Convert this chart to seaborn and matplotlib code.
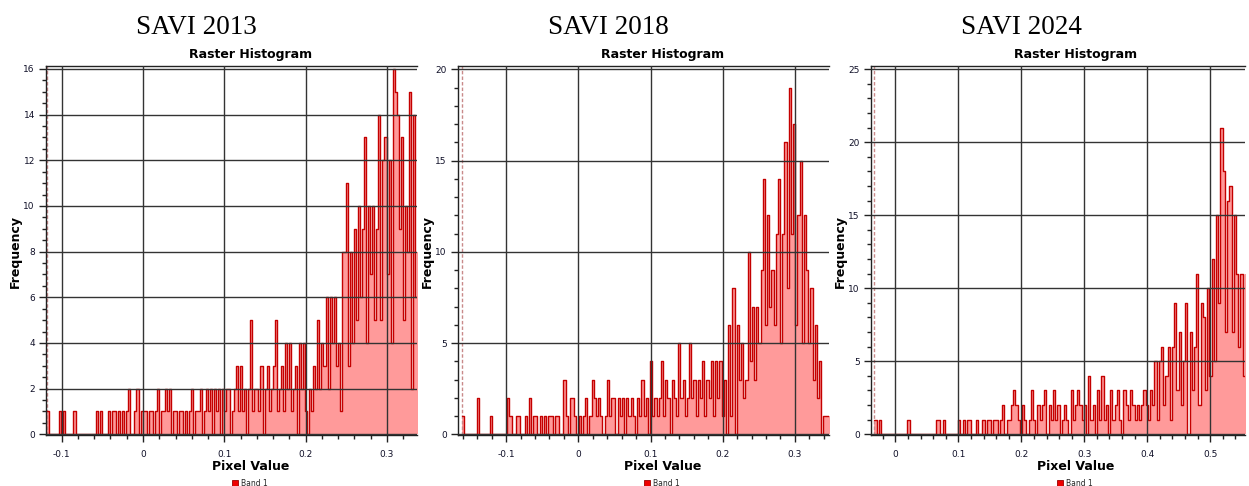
import numpy as np
import pandas as pd
import seaborn as sns
import matplotlib.pyplot as plt
from matplotlib.ticker import MultipleLocator
from matplotlib.patches import Patch

# histogram counts per bin
years = ["2013", "2018", "2024"]

start_2013 = -0.118
width_2013 = 0.0025
freq_2013 = [
    1, 0, 0, 0, 0, 0, 1, 0, 1, 0,
    0, 0, 0, 1, 0, 0, 0, 0, 0, 0,
    0, 0, 0, 0, 1, 0, 1, 0, 0, 0,
    1, 0, 1, 1, 0, 1, 0, 1, 0, 1,
    2, 0, 0, 1, 2, 0, 1, 1, 1, 0,
    1, 1, 0, 1, 2, 0, 1, 1, 2, 1,
    2, 0, 1, 1, 0, 1, 1, 0, 1, 0,
    1, 2, 0, 1, 1, 2, 0, 1, 2, 1,
    2, 0, 2, 1, 2, 0, 2, 1, 2, 2,
    0, 1, 2, 3, 1, 3, 1, 2, 0, 2,
    5, 1, 2, 2, 1, 3, 0, 2, 3, 1,
    2, 3, 5, 1, 2, 3, 1, 4, 2, 4,
    1, 2, 3, 0, 4, 2, 4, 1, 0, 2,
    1, 3, 2, 5, 2, 4, 3, 6, 2, 6,
    4, 6, 3, 4, 1, 8, 8, 11, 3, 8,
    4, 9, 5, 10, 6, 9, 13, 4, 10, 7,
    10, 5, 9, 14, 5, 12, 13, 7, 12, 4,
    16, 15, 14, 9, 13, 5, 10, 8, 15, 2,
    14, 6, 8, 1,
]

start_2018 = -0.1615
width_2018 = 0.003
freq_2018 = [
    1, 0, 0, 0, 0, 0, 0, 2, 0, 0,
    0, 0, 0, 1, 0, 0, 0, 0, 0, 0,
    0, 2, 1, 0, 0, 1, 1, 0, 0, 1,
    0, 2, 0, 1, 1, 0, 1, 0, 1, 0,
    1, 1, 0, 1, 1, 0, 0, 3, 1, 0,
    2, 2, 1, 0, 1, 0, 1, 2, 0, 1,
    3, 2, 1, 2, 1, 0, 1, 3, 1, 2,
    2, 0, 2, 1, 2, 0, 2, 1, 2, 1,
    0, 2, 1, 3, 1, 2, 0, 4, 1, 2,
    1, 2, 4, 1, 3, 2, 0, 3, 2, 1,
    5, 2, 3, 1, 2, 5, 2, 3, 1, 3,
    2, 4, 1, 3, 2, 4, 1, 4, 2, 4,
    1, 3, 0, 6, 1, 8, 0, 6, 3, 5,
    2, 3, 10, 4, 7, 3, 7, 5, 9, 14,
    6, 12, 7, 9, 6, 11, 14, 5, 11, 16,
    8, 19, 11, 17, 6, 12, 15, 5, 12, 9,
    5, 8, 3, 6, 2, 4, 0, 1, 1, 1,
]

start_2024 = -0.0333
width_2024 = 0.0035
freq_2024 = [
    1, 0, 1, 0, 0, 0, 0, 0, 0, 0,
    0, 0, 0, 0, 0, 1, 0, 0, 0, 0,
    0, 0, 0, 0, 0, 0, 0, 0, 1, 1,
    0, 1, 0, 0, 0, 0, 0, 0, 1, 0,
    1, 0, 1, 1, 0, 0, 1, 0, 0, 1,
    0, 1, 1, 0, 1, 1, 0, 1, 2, 0,
    1, 1, 2, 3, 2, 1, 0, 2, 1, 0,
    1, 3, 1, 0, 2, 1, 2, 3, 0, 2,
    1, 3, 1, 2, 0, 1, 2, 1, 0, 3,
    1, 2, 3, 2, 1, 2, 0, 4, 1, 2,
    0, 3, 1, 4, 1, 2, 0, 3, 1, 2,
    3, 1, 0, 3, 2, 1, 3, 2, 1, 2,
    1, 2, 3, 2, 1, 3, 2, 5, 1, 5,
    6, 2, 4, 6, 1, 6, 9, 3, 7, 2,
    5, 9, 0, 7, 3, 6, 11, 2, 9, 8,
    3, 10, 4, 12, 5, 15, 9, 21, 18, 7,
    16, 17, 7, 15, 11, 6, 11, 4, 11, 3,
]

starts = [start_2013, start_2018, start_2024]
widths = [width_2013, width_2018, width_2024]
freqs = [freq_2013, freq_2018, freq_2024]

sns.set_theme(style="white")
plt.rcParams["font.family"] = ["DejaVu Sans"]

W, H = 1249, 486
fig = plt.figure(figsize=(W / 100, H / 100), dpi=100)

# axes boxes in pixels (left, right), plus view limits
lefts = [46, 458, 871]
rights = [417, 829, 1245]
xlims = [(-0.1193, 0.337), (-0.1666, 0.3472), (-0.0386, 0.5551)]
ylims = [(-0.03, 16.13), (-0.04, 20.18), (-0.05, 25.22)]
ymajor = [2, 5, 5]
yminor = [0.5, 1, 1]
top_px, bot_px = 66, 435

for k in range(3):
    l, r = lefts[k], rights[k]
    ax = fig.add_axes([l / W, 1 - bot_px / H, (r - l) / W, (bot_px - top_px) / H])
    n = len(freqs[k])
    df = pd.DataFrame({
        "value": starts[k] + widths[k] * (np.arange(n) + 0.5),
        "count": freqs[k],
    })
    brange = (starts[k], starts[k] + widths[k] * n)
    sns.histplot(data=df, x="value", weights="count", binwidth=widths[k], binrange=brange,
                 element="step", fill=True, color="#ff2020", alpha=0.45, linewidth=0, ax=ax)
    sns.histplot(data=df, x="value", weights="count", binwidth=widths[k], binrange=brange,
                 element="step", fill=False, color="#c40000", linewidth=1.0, ax=ax)
    ax.axvline(starts[k], color="#c98a8a", lw=1.0, ls=(0, (2.5, 1.5)), zorder=1)

    ax.set_xlim(*xlims[k])
    ax.set_ylim(*ylims[k])
    ax.xaxis.set_major_locator(MultipleLocator(0.1))
    ax.xaxis.set_minor_locator(MultipleLocator(0.02))
    ax.yaxis.set_major_locator(MultipleLocator(ymajor[k]))
    ax.yaxis.set_minor_locator(MultipleLocator(yminor[k]))
    ax.xaxis.set_major_formatter(plt.FuncFormatter(lambda v, p: f"{v:g}" if abs(v) > 1e-9 else "0"))
    # QGIS draws the grid over the curve
    ax.set_axisbelow(False)
    ax.grid(True, which="major", color="#333333", lw=1.0)
    ax.tick_params(which="both", direction="out", colors="#222222",
                   labelcolor="#101028", labelsize=6.5)
    ax.tick_params(axis="y", which="major", length=5, width=1, pad=3, left=True)
    ax.tick_params(axis="y", which="minor", length=3, width=1, left=True)
    ax.tick_params(axis="x", which="major", length=5, width=1, pad=6, bottom=True)
    ax.tick_params(axis="x", which="minor", length=3, width=1, bottom=True)
    for side in ["left", "bottom", "top"]:
        ax.spines[side].set_color("#222222")
        ax.spines[side].set_linewidth(1.0)
    ax.spines["right"].set_visible(False)
    ax.set_xlabel("")
    ax.set_ylabel("")

    fig.text((l + 150) / W, 1 - 34 / H, "SAVI " + years[k], ha="center", va="baseline",
             fontsize=19.5, family="Liberation Serif", color="black")
    fig.text((l + 204.5) / W, 1 - 58 / H, "Raster Histogram", ha="center", va="baseline",
             fontsize=9, fontweight="bold", color="black")
    fig.text((l + 204.5) / W, 1 - 470 / H, "Pixel Value", ha="center", va="baseline",
             fontsize=9, fontweight="bold", color="black")
    fig.text((l - 31) / W, 1 - 252 / H, "Frequency", ha="center", va="center",
             rotation=90, fontsize=9, fontweight="bold", color="black")
    ax.legend(handles=[Patch(facecolor="#ee0000", edgecolor="#990000", lw=0.6)],
              labels=["Band 1"], loc="center", frameon=False, fontsize=5.5,
              handlelength=0.8, handleheight=0.8, handletextpad=0.4,
              bbox_to_anchor=((l + 204) / W, 1 - 483 / H), bbox_transform=fig.transFigure)

fig.savefig("out.png", dpi=100)
